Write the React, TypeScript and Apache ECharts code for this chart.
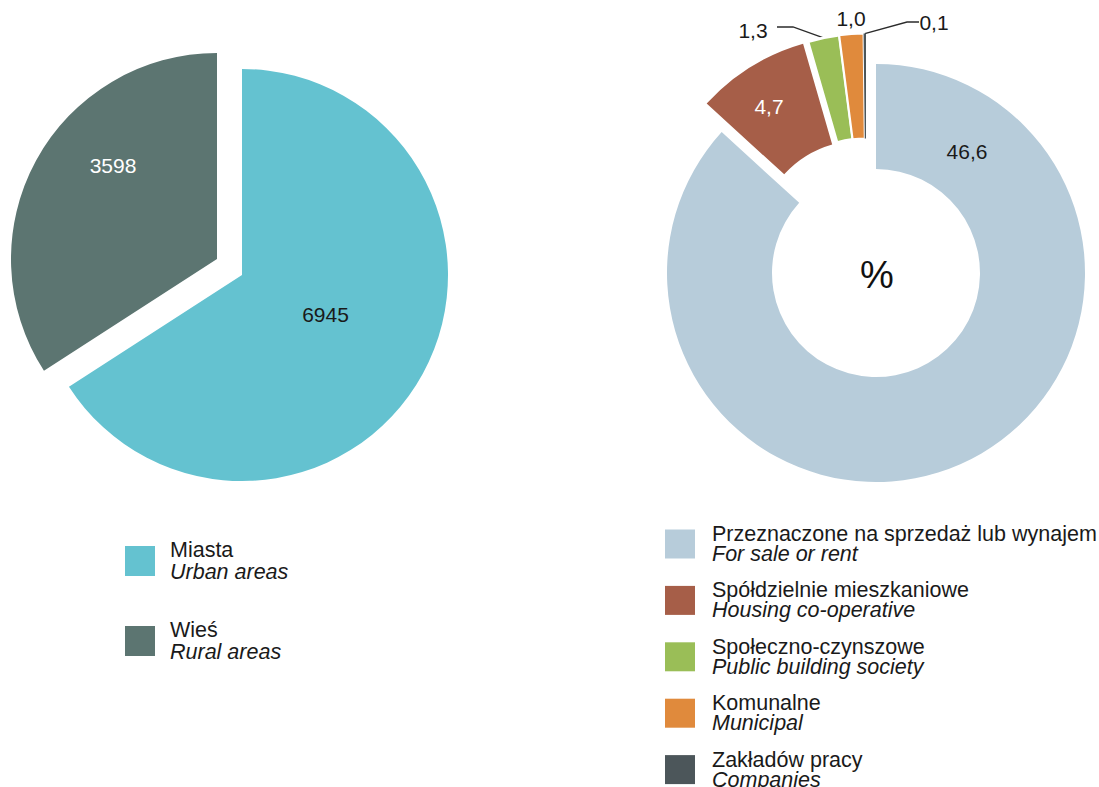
import React, { useEffect, useRef } from "react";
import * as echarts from "echarts";

// ---- data ----
const areaNames = ["Miasta", "Wieś"];
const areaNamesEn = ["Urban areas", "Rural areas"];
const areaValues = [6945, 3598];

const typeNames = [
  "Przeznaczone na sprzedaż lub wynajem",
  "Spółdzielnie mieszkaniowe",
  "Społeczno-czynszowe",
  "Komunalne",
  "Zakładów pracy",
];
const typeNamesEn = [
  "For sale or rent",
  "Housing co-operative",
  "Public building society",
  "Municipal",
  "Companies",
];
const typeValues = [46.6, 4.7, 1.3, 1.0, 0.1];

// ---- styles / layout ----
const FONT = '"Liberation Sans", Arial, Helvetica, sans-serif';
const TEXT = "#1a1a1a";
const areaColors = ["#64C2D0", "#5C7571"];
const typeColors = ["#B7CCDA", "#A65E48", "#9ABE57", "#E08A3C", "#4C565A"];

const fmtPl = (v: number, digits: number) => v.toFixed(digits).replace(".", ",");

type PieCfg = {
  names: string[];
  values: number[];
  colors: string[];
  center: number[];
  radius: (number | string)[];
  groups: number[][];
  shifts: number[][];
  labelPos: number[][];
  labelColors: string[];
  borders: number[];
  lineBends: (number[][] | null)[];
  digits: number;
};

function makeSeries(c: PieCfg) {
  return c.groups.map((group, gi) => {
    const cx = c.center[0] + c.shifts[gi][0];
    const cy = c.center[1] + c.shifts[gi][1];
    return {
      type: "pie",
      silent: true,
      center: [cx, cy],
      radius: c.radius,
      startAngle: 90,
      clockwise: true,
      avoidLabelOverlap: false,
      label: {
        show: true,
        position: "outside",
        fontFamily: FONT,
        fontSize: 21,
        formatter: (p: any) => fmtPl(p.value, c.digits),
      },
      labelLine: {
        show: false,
        length: 10,
        length2: 10,
        lineStyle: { color: "#2b2b2b", width: 1.3 },
      },
      labelLayout: (p: any) => {
        const i = p.dataIndex;
        if (!group.includes(i)) return {};
        const pos = c.labelPos[i];
        const res: any = { x: pos[0], y: pos[1], align: "center", verticalAlign: "middle" };
        const bends = c.lineBends[i];
        if (bends && p.labelLinePoints) {
          res.labelLinePoints = [
            p.labelLinePoints[0],
            ...bends.map((b) => [pos[0] + b[0], pos[1] + b[1]]),
          ];
        }
        return res;
      },
      data: c.names.map((n, i) =>
        group.includes(i)
          ? {
              name: n,
              value: c.values[i],
              itemStyle: {
                color: c.colors[i],
                borderColor: "#ffffff",
                borderWidth: c.borders[i],
              },
              label: { show: true, color: c.labelColors[i] },
              labelLine: { show: !!c.lineBends[i] },
            }
          : {
              name: n,
              value: c.values[i],
              itemStyle: { color: "rgba(0,0,0,0)", borderWidth: 0 },
              label: { show: false },
              labelLine: { show: false },
            }
      ),
    };
  });
}

export default function App() {
  const ref = useRef<HTMLDivElement>(null);

  useEffect(() => {
    document.body.style.margin = "0";
    if (!ref.current) return;
    const chart = echarts.init(ref.current, undefined, { renderer: "svg" });

    const leftSeries = makeSeries({
      names: areaNames,
      values: areaValues,
      colors: areaColors,
      center: [242, 275],
      radius: [0, 206],
      groups: [[0], [1]],
      shifts: [
        [0, 0],
        [-25, -16],
      ],
      labelPos: [
        [325.5, 314],
        [113, 165],
      ],
      labelColors: [TEXT, "#ffffff"],
      borders: [0, 0],
      lineBends: [null, null],
      digits: 0,
    });

    const rightSeries = makeSeries({
      names: typeNames,
      values: typeValues,
      colors: typeColors,
      center: [876, 273],
      radius: [104, 209],
      groups: [[0], [1], [2, 3, 4]],
      shifts: [
        [0, 0],
        [-15, -28.5],
        [-10, -30.5],
      ],
      labelPos: [
        [967, 151],
        [769, 106],
        [753, 30],
        [851, 18],
        [934, 22],
      ],
      labelColors: [TEXT, "#ffffff", TEXT, TEXT, TEXT],
      borders: [0, 0, 2.5, 2, 0],
      lineBends: [
        null,
        null,
        [
          [40, -3],
          [24, -3],
        ],
        null,
        [
          [-27, 0],
          [-15, 0],
        ],
      ],
      digits: 1,
    });

    const legendText = (lineHeight: number, padLeft: number) => ({
      rich: {
        a: {
          fontFamily: FONT,
          fontSize: 21.5,
          lineHeight,
          color: TEXT,
          padding: [0, 0, 0, padLeft],
        },
        b: {
          fontFamily: FONT,
          fontSize: 21.5,
          lineHeight,
          color: TEXT,
          fontStyle: "italic",
          padding: [0, 0, 0, padLeft],
        },
      },
    });

    chart.setOption({
      animation: false,
      backgroundColor: "#ffffff",
      legend: [
        {
          data: areaNames.map((n, i) => ({
            name: n,
            itemStyle: { color: areaColors[i], opacity: 1, borderWidth: 0 },
          })),
          orient: "vertical",
          left: 125,
          top: 539,
          height: 200,
          icon: "rect",
          itemWidth: 30,
          itemHeight: 30,
          itemGap: 36,
          selectedMode: false,
          padding: 0,
          formatter: (name: string) =>
            `{a|${name}}\n{b|${areaNamesEn[areaNames.indexOf(name)]}}`,
          textStyle: legendText(22, 10),
        },
        {
          data: typeNames.map((n, i) => ({
            name: n,
            itemStyle: { color: typeColors[i], opacity: 1, borderWidth: 0 },
          })),
          orient: "vertical",
          left: 665,
          top: 523,
          height: 320,
          icon: "rect",
          itemWidth: 30,
          itemHeight: 29,
          itemGap: 14.4,
          selectedMode: false,
          padding: 0,
          formatter: (name: string) =>
            `{a|${name}}\n{b|${typeNamesEn[typeNames.indexOf(name)]}}`,
          textStyle: legendText(20, 12),
        },
      ],
      graphic: [
        {
          type: "text",
          x: 877,
          y: 275,
          style: {
            text: "%",
            fontFamily: FONT,
            fontSize: 38,
            fill: "#111111",
            textAlign: "center",
            textVerticalAlign: "middle",
          },
        },
      ],
      series: [...leftSeries, ...rightSeries],
    });

    return () => chart.dispose();
  }, []);

  return <div ref={ref} style={{ width: 1099, height: 787 }} />;
}
